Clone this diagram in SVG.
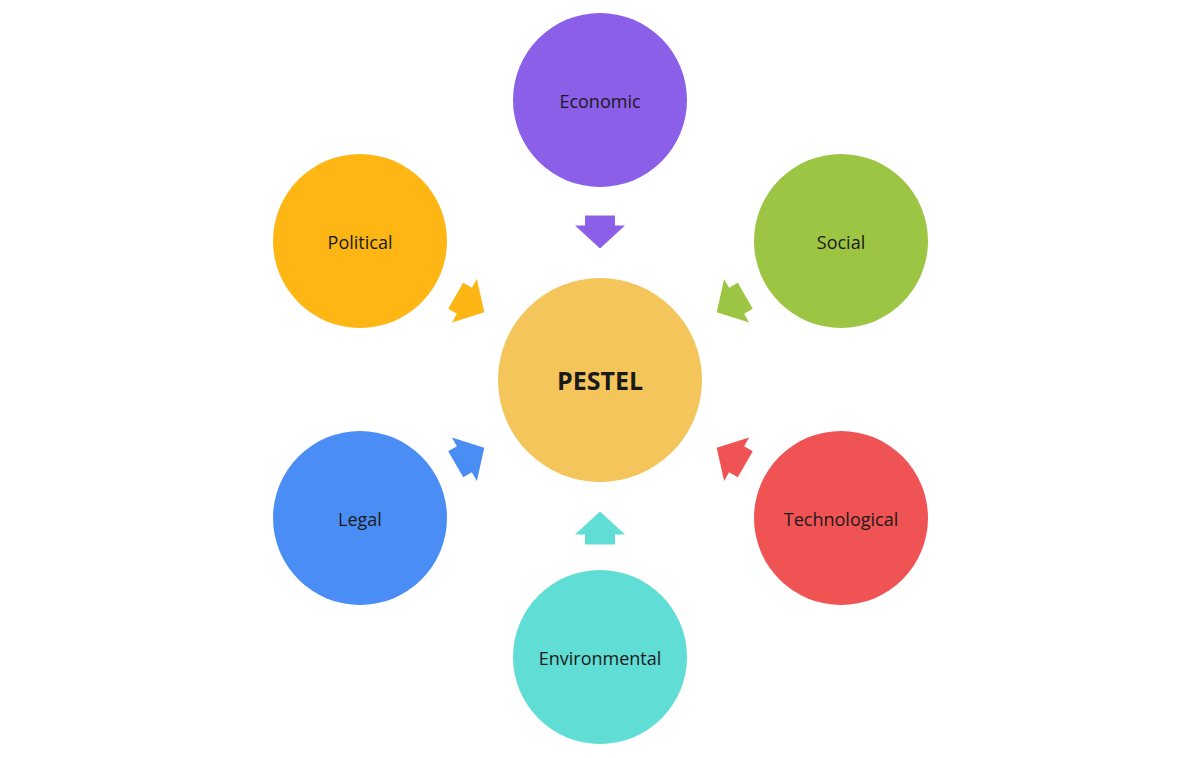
<svg xmlns="http://www.w3.org/2000/svg" width="1200" height="758" viewBox="0 0 1200 758">
<style>
text{font-family:"Open Sans","DejaVu Sans",sans-serif;font-size:18px;fill:#1a1a1a;text-anchor:middle;dominant-baseline:central}
.c{font-size:25px;font-weight:bold}
</style>
<defs><path id="a" d="M-16.5,-15 L-6.5,-15 L-6.5,-25 L16.5,0 L-6.5,25 L-6.5,15 L-16.5,15 Z"/></defs>
<rect width="1200" height="758" fill="#fff"/>
<g id="connectors">
<use href="#a" fill="#8B5FE8" transform="translate(600,232) rotate(90)"/>
<use href="#a" fill="#FDB614" transform="translate(470,304) rotate(30)"/>
<use href="#a" fill="#9DC544" transform="translate(731,304) rotate(150)"/>
<use href="#a" fill="#4A8EF5" transform="translate(470,456) rotate(-30)"/>
<use href="#a" fill="#F05353" transform="translate(731,456) rotate(210)"/>
<use href="#a" fill="#60DDD4" transform="translate(600,528) rotate(-90)"/>
</g>
<g id="pestel"><circle cx="600" cy="380" r="102" fill="#F3C55B"/><text class="c" x="600" y="380">PESTEL</text></g>
<g id="economic"><circle cx="600" cy="100" r="87" fill="#8B5FE8"/><text x="600" y="101">Economic</text></g>
<g id="political"><circle cx="360" cy="241" r="87" fill="#FDB614"/><text x="360" y="242">Political</text></g>
<g id="social"><circle cx="841" cy="241" r="87" fill="#9DC544"/><text x="841" y="242">Social</text></g>
<g id="legal"><circle cx="360" cy="518" r="87" fill="#4A8EF5"/><text x="360" y="519">Legal</text></g>
<g id="technological"><circle cx="841" cy="518" r="87" fill="#F05353"/><text x="841" y="519">Technological</text></g>
<g id="environmental"><circle cx="600" cy="657" r="87" fill="#60DDD4"/><text x="600" y="658">Environmental</text></g>
</svg>
